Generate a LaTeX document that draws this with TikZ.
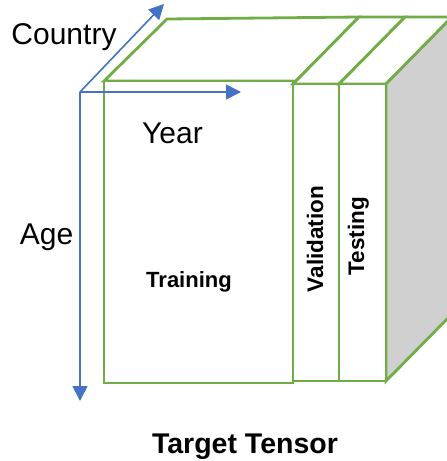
\documentclass[tikz,border=0pt]{standalone}
\usepackage{fontspec}
\setmainfont{Liberation Sans}
\usetikzlibrary{arrows.meta}
\definecolor{slabgreen}{HTML}{70AD47}
\definecolor{axisblue}{HTML}{4472C4}
\definecolor{sidegray}{HTML}{D0D0D0}
\tikzset{
  slab/.style={draw=slabgreen, line width=2.8pt, line join=miter, fill=white},
  sideface/.style={draw=slabgreen, line width=2.8pt, fill=sidegray},
  axis/.style={draw=axisblue, line width=1.6pt, -{Triangle[length=15pt,width=15pt]}},
  axislabel/.style={font=\fontsize{30}{35}\selectfont, inner sep=0pt},
  partlabel/.style={font=\bfseries\fontsize{22}{26}\selectfont, inner sep=0pt},
  sidelabel/.style={font=\bfseries\fontsize{22.5}{26}\selectfont, inner sep=0pt, rotate=90, anchor=base},
  titlelabel/.style={font=\bfseries\fontsize{28.5}{33}\selectfont, inner sep=0pt}
}
\begin{document}
\begin{tikzpicture}[x=1pt, y=-1pt]
\useasboundingbox (0,0) rectangle (447,461);

% training block (its right top edge is shared with the validation slab)
\draw[slab] (104,81) -- (167,19) -- (359,17) -- (293,84) -- (293,81) -- cycle;
\draw[slab] (104,81) rectangle (293,383);

% validation block
\draw[slab] (293,84) -- (359,17) -- (405,17) -- (339,84) -- cycle;
\draw[slab] (293,84) rectangle (339,381);

% testing block with shaded side
\draw[slab] (339,84) -- (405,17) -- (452,17) -- (386,84) -- cycle;
\draw[sideface] (386,84) -- (452,17) -- (452,314) -- (386,381) -- cycle;
\draw[slab] (339,84) rectangle (386,381);

% axes
\coordinate (O) at (80,92);
\coordinate (yearEnd) at (241,92);
\coordinate (countryEnd) at (164,4);
\coordinate (ageEnd) at (80,401);
\draw[axis] (O) -- (yearEnd);
\draw[axis] (O) -- (countryEnd);
\draw[axis] (O) -- (ageEnd);

% labels
\node[axislabel, anchor=base] (country) at (64,44) {Country};
\node[axislabel, anchor=base] (year) at (172.5,143) {Year};
\node[axislabel, anchor=base] (age) at (46.5,244) {Age};
\node[partlabel, anchor=base] (training) at (189,287) {Training};
\node[sidelabel] (validation) at (323,239) {Validation};
\node[sidelabel] (testing) at (364,236) {Testing};
\node[titlelabel, anchor=base] (title) at (245,453) {Target Tensor};
\end{tikzpicture}
\end{document}
